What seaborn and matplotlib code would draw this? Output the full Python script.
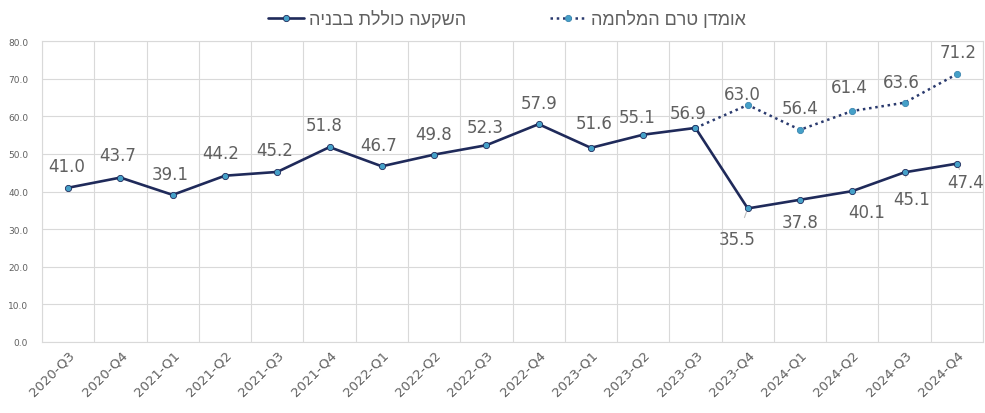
import numpy as np
import pandas as pd
import matplotlib
matplotlib.use('Agg')
import matplotlib.pyplot as plt
import seaborn as sns

# Quarters and values
quarters = ['2020-Q3', '2020-Q4',
            '2021-Q1', '2021-Q2', '2021-Q3', '2021-Q4',
            '2022-Q1', '2022-Q2', '2022-Q3', '2022-Q4',
            '2023-Q1', '2023-Q2', '2023-Q3', '2023-Q4',
            '2024-Q1', '2024-Q2', '2024-Q3', '2024-Q4']
actual = [41.0, 43.7, 39.1, 44.2, 45.2, 51.8, 46.7, 49.8, 52.3, 57.9,
          51.6, 55.1, 56.9, 35.5, 37.8, 40.1, 45.1, 47.4]
forecast_quarters = ['2023-Q3', '2023-Q4', '2024-Q1', '2024-Q2', '2024-Q3', '2024-Q4']
forecast = [56.9, 63.0, 56.4, 61.4, 63.6, 71.2]

label_actual = 'השקעה כוללת בבניה'
label_forecast = 'אומדן טרם המלחמה'

# label offsets in points (dx, dy) -- layout only
off_actual = [(-1, 16), (-2, 16), (-2, 15), (-3, 16), (-2, 16), (-4, 16),
              (-2, 15), (0, 15), (-1, 13), (0, 15), (2, 18), (-4, 13),
              (-5, 11), (-8, -22), (0, -16), (10, -15), (5, -19), (6, -13)]
off_forecast = [None, (-4, 8), (0, 16), (-2, 17), (-2, 15), (1, 16)]

navy = '#1f2a5a'
grey_txt = '#606060'
grid_c = '#d9d9d9'

df = pd.DataFrame({'q': quarters, 'v': actual})
df['x'] = np.arange(len(quarters))
fx = [quarters.index(q) for q in forecast_quarters]
dff = pd.DataFrame({'x': fx, 'v': forecast})

sns.set_style('white')
fig = plt.figure(figsize=(9.85, 4.14), dpi=100)
ax = fig.add_axes([42 / 985, 71 / 414, 941 / 985, 301 / 414])

sns.lineplot(data=dff, x='x', y='v', ax=ax, color='#2a3a6e', linestyle=(0, (1, 1.5)),
             linewidth=1.8, marker='o', markersize=4.5, markerfacecolor='#45a0c8',
             markeredgecolor='#3d86b0', markeredgewidth=0.6,
             label=label_forecast[::-1], zorder=3)
sns.lineplot(data=df, x='x', y='v', ax=ax, color=navy, linewidth=1.9,
             marker='o', markersize=4.5, markerfacecolor='#45a0c8',
             markeredgecolor=navy, markeredgewidth=0.6,
             label=label_actual[::-1], zorder=4)

for i, v in enumerate(actual):
    dx, dy = off_actual[i]
    lead = dy < -18 or (i >= 15)
    ax.annotate(f'{v:.1f}', (i, v), xytext=(dx, dy), textcoords='offset points',
                ha='center', va='center', fontsize=12, color=grey_txt,
                arrowprops=dict(arrowstyle='-', color='#bfbfbf', lw=0.8,
                                shrinkA=7, shrinkB=3) if lead else None)
for x, v, o in zip(fx, forecast, off_forecast):
    if o is None:
        continue
    ax.annotate(f'{v:.1f}', (x, v), xytext=o, textcoords='offset points',
                ha='center', va='center', fontsize=12, color=grey_txt)

ax.set_xlim(-0.5, len(quarters) - 0.5)
ax.set_ylim(0, 80)
ax.set_yticks(np.arange(0, 81, 10))
ax.set_yticklabels([f'{t:.1f}' for t in np.arange(0, 81, 10)], fontsize=6.5, color=grey_txt)
ax.set_xticks(np.arange(len(quarters)))
ax.set_xticklabels(quarters, rotation=45, ha='right', rotation_mode='anchor',
                   fontsize=9.5, color=grey_txt)
ax.set_xticks(np.arange(-0.5, len(quarters)), minor=True)
ax.tick_params(axis='both', which='both', length=0)
ax.tick_params(axis='x', which='major', pad=4)
ax.tick_params(axis='y', pad=10)
ax.grid(axis='y', which='major', color=grid_c, linewidth=0.8)
ax.grid(axis='x', which='minor', color=grid_c, linewidth=0.8)
ax.grid(axis='x', which='major', visible=False)
for s in ax.spines.values():
    s.set_color(grid_c)
    s.set_linewidth(0.8)
ax.set_xlabel('')
ax.set_ylabel('')

# matplotlib lays text out left to right, so Hebrew is given in visual order
h, l = ax.get_legend_handles_labels()
leg = ax.legend([h[1], h[0]], [l[1], l[0]], loc='lower center',
                bbox_to_anchor=(0.494, 1.0), ncol=2, frameon=False,
                prop={'family': ['Liberation Sans', 'DejaVu Sans'], 'size': 13},
                columnspacing=4.6, handlelength=2.0, handletextpad=0.3,
                borderaxespad=0.3)
for t in leg.get_texts():
    t.set_color(grey_txt)

fig.savefig('out.png', dpi=100)
